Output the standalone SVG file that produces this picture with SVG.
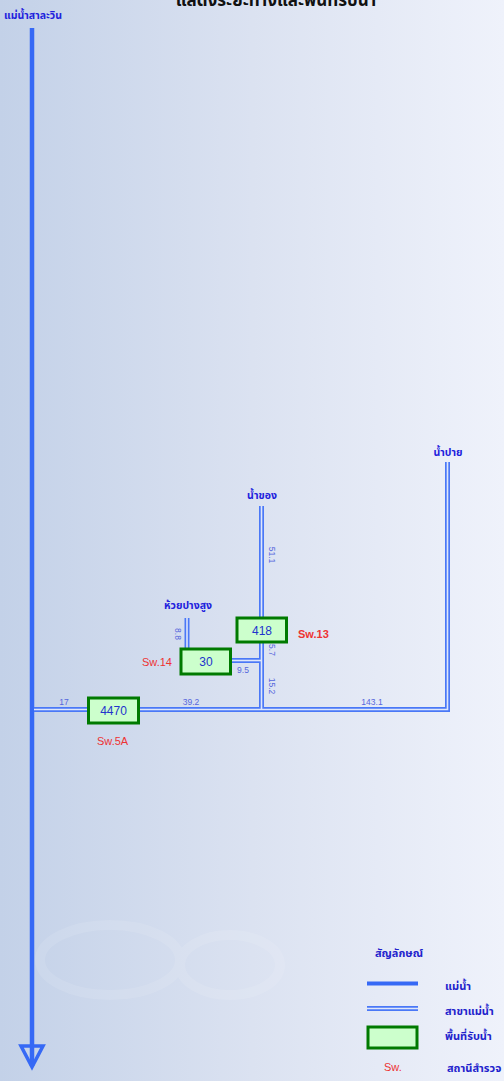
<svg xmlns="http://www.w3.org/2000/svg" width="504" height="1081" viewBox="0 0 504 1081">
<defs>
<linearGradient id="bg" x1="0" y1="0" x2="1" y2="0">
<stop offset="0" stop-color="#c3d1e8"/>
<stop offset="0.5" stop-color="#dbe2f1"/>
<stop offset="1" stop-color="#eff2fb"/>
</linearGradient>
<style>
.main{stroke:#3669f5;stroke-width:4.5;fill:none}
.tribO{stroke:#4a78f7;stroke-width:5;fill:none}
.tribI{stroke:#dfe7fb;stroke-width:1.6;fill:none}
.box{fill:#ccffcc;stroke:#007a00;stroke-width:3}
.num{font-family:"Liberation Sans",Arial,sans-serif;font-size:12px;fill:#2233cc;text-anchor:middle}
.dist{font-family:"Liberation Sans",Arial,sans-serif;font-size:8.5px;fill:#5566dd;text-anchor:middle}
.sw{font-family:"Liberation Sans",Arial,sans-serif;font-size:11px;fill:#ee3333}
.riv{font-family:"Noto Sans Thai",Tahoma,"Noto Sans",sans-serif;font-size:10.5px;font-weight:bold;fill:#2222dd;text-anchor:middle}
.leg{font-family:"Noto Sans Thai",Tahoma,"Noto Sans",sans-serif;font-size:11px;font-weight:bold;fill:#2222cc}
</style>
</defs>
<rect width="504" height="1081" fill="url(#bg)"/>
<g opacity="0.1" fill="none" stroke="#ffffff" stroke-width="10">
<ellipse cx="110" cy="960" rx="70" ry="35"/>
<ellipse cx="230" cy="965" rx="50" ry="30"/>
</g>
<text id="title" x="276" y="6" font-family="Noto Sans Thai,Tahoma,Noto Sans,sans-serif" font-size="17" font-weight="bold" fill="#111111" text-anchor="middle">แสดงระยะทางและพื้นที่รับน้ำ</text>
<g id="connectors">
<line class="main" x1="32" y1="28" x2="32" y2="1066"/>
<polygon points="21,1046 43,1046 32,1067" fill="none" stroke="#3669f5" stroke-width="3.5" stroke-linejoin="miter"/>
<path class="tribO" d="M34,709.5 H447.5 V462"/>
<path class="tribO" d="M261.5,506 V709.5"/>
<path class="tribO" d="M231,660.5 H261.5"/>
<path class="tribO" d="M187,618 V648"/>
<path class="tribI" d="M34,709.5 H447.5 V462"/>
<path class="tribI" d="M261.5,506 V709.5"/>
<path class="tribI" d="M231,660.5 H261.5"/>
<path class="tribI" d="M187,618 V648"/>
</g>
<g id="labels">
<text class="riv" x="33" y="19">แม่น้ำสาละวิน</text>
<text class="riv" x="262" y="499">น้ำของ</text>
<text class="riv" x="448" y="456">น้ำปาย</text>
<text class="riv" x="188" y="609">ห้วยปางสูง</text>
<text class="dist" x="64" y="705">17</text>
<text class="dist" x="191" y="705">39.2</text>
<text class="dist" x="372" y="705">143.1</text>
<text class="dist" x="243" y="673">9.5</text>
<text class="dist" transform="translate(269,555) rotate(90)">51.1</text>
<text class="dist" transform="translate(269,650) rotate(90)">5.7</text>
<text class="dist" transform="translate(269,686) rotate(90)">15.2</text>
<text class="dist" transform="translate(175,634) rotate(90)">8.8</text>
</g>
<g id="n4470"><rect class="box" x="88.5" y="698" width="50" height="25"/><text class="num" x="113.5" y="715">4470</text><text class="sw" x="97" y="745">Sw.5A</text></g>
<g id="n30"><rect class="box" x="181" y="649" width="49.5" height="25"/><text class="num" x="206" y="666">30</text><text class="sw" x="142" y="666">Sw.14</text></g>
<g id="n418"><rect class="box" x="237" y="618" width="49.5" height="24"/><text class="num" x="262" y="635">418</text><text class="sw" x="298" y="638" font-weight="bold" fill="#ee0000" font-size="10">Sw.13</text></g>
<g id="legend">
<text class="leg" x="399" y="957" text-anchor="middle">สัญลักษณ์</text>
<line x1="367" y1="983.5" x2="418" y2="983.5" stroke="#3669f5" stroke-width="4"/>
<line x1="367" y1="1008.5" x2="418" y2="1008.5" class="tribO"/>
<line x1="367" y1="1008.5" x2="418" y2="1008.5" class="tribI"/>
<rect class="box" x="368" y="1027" width="49" height="21"/>
<text class="sw" x="384" y="1071">Sw.</text>
<text class="leg" x="445" y="990">แม่น้ำ</text>
<text class="leg" x="445" y="1015">สาขาแม่น้ำ</text>
<text class="leg" x="445" y="1040">พื้นที่รับน้ำ</text>
<text class="leg" x="447" y="1072">สถานีสำรวจ</text>
</g>
</svg>
